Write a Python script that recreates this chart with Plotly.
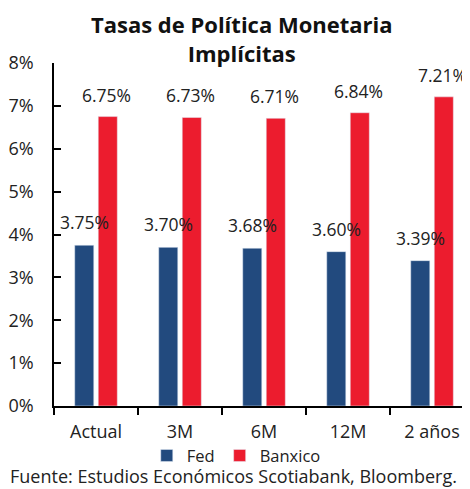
import plotly.graph_objects as go

categories = ["Actual", "3M", "6M", "12M", "2 años"]
fed = [3.75, 3.70, 3.68, 3.60, 3.39]
banxico = [6.75, 6.73, 6.71, 6.84, 7.21]
y_ticks = [0, 1, 2, 3, 4, 5, 6, 7, 8]
y_tick_labels = [f"{v}%" for v in y_ticks]

FED_COLOR = "#224a7e"
BAN_COLOR = "#ec1c2e"
FONT = "Open Sans"
TXT = "#222222"

fig = go.Figure()
fig.add_trace(go.Bar(x=categories, y=fed, name="Fed", marker_color=FED_COLOR))
fig.add_trace(go.Bar(x=categories, y=banxico, name="Banxico", marker_color=BAN_COLOR))

for c, v in zip(categories, fed):
    fig.add_annotation(x=c, y=v, text=f"{v:.2f}%", showarrow=False, xshift=-12, yshift=23,
                       yanchor="middle", font=dict(size=17.5, color=TXT, family=FONT))
for c, v in zip(categories, banxico):
    fig.add_annotation(x=c, y=v, text=f"{v:.2f}%", showarrow=False, xshift=10, yshift=22,
                       yanchor="middle", font=dict(size=17.5, color=TXT, family=FONT))

fig.add_annotation(xref="paper", yref="paper", x=0.4315, y=-0.204,
                   text="Fuente: Estudios Económicos Scotiabank, Bloomberg.",
                   showarrow=False, xanchor="center", yanchor="middle",
                   font=dict(size=18, color=TXT, family=FONT))

fig.update_layout(
    width=462, height=481,
    margin=dict(l=46, r=0, t=55, b=83),
    paper_bgcolor="white", plot_bgcolor="white",
    font=dict(family=FONT, size=18, color=TXT),
    title=dict(text="<b>Tasas de Política Monetaria<br>Implícitas</b>", x=0.506, xanchor="center",
               xref="container", yref="container", y=0.948, yanchor="top",
               font=dict(size=22, color="#111111", family=FONT)),
    barmode="group", bargap=0.44, bargroupgap=0.19,
    showlegend=True,
    legend=dict(orientation="h", x=0.223, xanchor="left", y=-0.094, yanchor="top",
                font=dict(size=16.5, family=FONT), itemwidth=30, traceorder="normal"),
    xaxis=dict(range=[-0.5, 4.452], showline=True, linecolor="black", linewidth=1.5,
               ticks="outside", tickson="boundaries", ticklen=7, tickcolor="black", tickwidth=1.5,
               tickfont=dict(size=18), showgrid=False, ticklabelstandoff=9, automargin=False),
    yaxis=dict(range=[0, 8], tickvals=y_ticks, ticktext=y_tick_labels, showline=True,
               linecolor="black", linewidth=1.5, ticks="inside", ticklen=7, tickcolor="black",
               tickwidth=1.5, showgrid=False, zeroline=False, tickfont=dict(size=18),
               ticklabelstandoff=15, automargin=False),
)

fig.write_html("out.html")
